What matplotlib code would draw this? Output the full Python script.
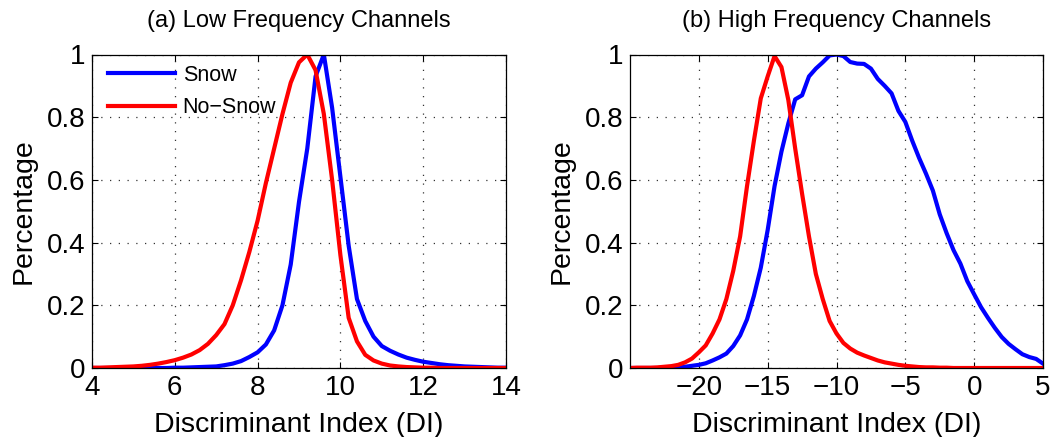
import numpy as np
import matplotlib
matplotlib.use("Agg")
import matplotlib.pyplot as plt

plt.rcParams['font.family'] = ['Liberation Sans', 'DejaVu Sans']

# ---------------- data ----------------
# Panel (a): Low Frequency Channels
di_low = [4.0, 4.2, 4.4, 4.6, 4.8, 5.0, 5.2, 5.4, 5.6, 5.8,
          6.0, 6.2, 6.4, 6.6, 6.8, 7.0, 7.2, 7.4, 7.6, 7.8,
          8.0, 8.2, 8.4, 8.6, 8.8, 9.0, 9.2, 9.4, 9.6, 9.8,
          10.0, 10.2, 10.4, 10.6, 10.8, 11.0, 11.2, 11.4, 11.6, 11.8,
          12.0, 12.2, 12.4, 12.6, 12.8, 13.0, 13.2, 13.4, 13.6, 13.8, 14.0]
snow_low = [0.0, 0.0, 0.0, 0.0, 0.0, 0.0, 0.0, 0.0, 0.0, 0.0,
            0.001, 0.001, 0.002, 0.003, 0.004, 0.005, 0.009, 0.014, 0.022, 0.035,
            0.05, 0.075, 0.12, 0.2, 0.33, 0.53, 0.7, 0.93, 1.0, 0.83,
            0.61, 0.39, 0.22, 0.15, 0.10, 0.07, 0.055, 0.043, 0.033, 0.026,
            0.02, 0.016, 0.012, 0.009, 0.007, 0.005, 0.004, 0.003, 0.002, 0.001, 0.001]
nosnow_low = [0.001, 0.001, 0.002, 0.003, 0.004, 0.005, 0.007, 0.01, 0.014, 0.019,
              0.025, 0.033, 0.043, 0.057, 0.077, 0.105, 0.14, 0.2, 0.28, 0.37,
              0.47, 0.59, 0.70, 0.81, 0.91, 0.975, 1.0, 0.95, 0.81, 0.6,
              0.36, 0.16, 0.085, 0.042, 0.024, 0.014, 0.008, 0.005, 0.003, 0.002,
              0.001, 0.001, 0.0, 0.0, 0.0, 0.0, 0.0, 0.0, 0.0, 0.0, 0.0]

# Panel (b): High Frequency Channels
di_high = [-25.0, -24.5, -24.0, -23.5, -23.0, -22.5, -22.0, -21.5, -21.0, -20.5,
           -20.0, -19.5, -19.0, -18.5, -18.0, -17.5, -17.0, -16.5, -16.0, -15.5,
           -15.0, -14.5, -14.0, -13.5, -13.0, -12.5, -12.0, -11.5, -11.0, -10.5,
           -10.0, -9.5, -9.0, -8.5, -8.0, -7.5, -7.0, -6.5, -6.0, -5.5,
           -5.0, -4.5, -4.0, -3.5, -3.0, -2.5, -2.0, -1.5, -1.0, -0.5,
           0.0, 0.5, 1.0, 1.5, 2.0, 2.5, 3.0, 3.5, 4.0, 4.5, 5.0]
snow_high = [0.0, 0.0, 0.0, 0.0, 0.0, 0.001, 0.001, 0.002, 0.004, 0.007,
             0.01, 0.015, 0.024, 0.034, 0.046, 0.07, 0.104, 0.155, 0.23, 0.32,
             0.44, 0.58, 0.69, 0.78, 0.857, 0.87, 0.93, 0.955, 0.975, 0.997,
             1.0, 0.995, 0.976, 0.971, 0.97, 0.955, 0.922, 0.9, 0.876, 0.82,
             0.785, 0.725, 0.67, 0.62, 0.566, 0.49, 0.43, 0.376, 0.333, 0.277,
             0.235, 0.194, 0.16, 0.128, 0.099, 0.077, 0.06, 0.044, 0.035, 0.029, 0.014]
nosnow_high = [0.0, 0.001, 0.001, 0.001, 0.002, 0.004, 0.006, 0.01, 0.018, 0.03,
               0.05, 0.072, 0.11, 0.155, 0.22, 0.31, 0.42, 0.58, 0.725, 0.86,
               0.93, 0.995, 0.96, 0.855, 0.70, 0.556, 0.42, 0.30, 0.22, 0.15,
               0.11, 0.08, 0.062, 0.049, 0.04, 0.032, 0.024, 0.018, 0.014, 0.01,
               0.007, 0.005, 0.003, 0.002, 0.002, 0.001, 0.001, 0.0, 0.0, 0.0,
               0.0, 0.0, 0.0, 0.0, 0.0, 0.0, 0.0, 0.0, 0.0, 0.0, 0.0]

titles = ["(a) Low Frequency Channels", "(b) High Frequency Channels"]
xlabel = "Discriminant Index (DI)"
ylabel = "Percentage"
series_names = ["Snow", "No\u2212Snow"]
yticks = [0, 0.2, 0.4, 0.6, 0.8, 1]
ytick_labels = ["0", "0.2", "0.4", "0.6", "0.8", "1"]
xticks_low = [4, 6, 8, 10, 12, 14]
xticks_high = [-20, -15, -10, -5, 0, 5]

# ---------------- figure ----------------
W, H = 1059, 437
fig = plt.figure(figsize=(W / 100, H / 100), dpi=100)

def px_axes(x0, y0, x1, y1):
    return fig.add_axes([x0 / W, 1 - y1 / H, (x1 - x0) / W, (y1 - y0) / H])

ax1 = px_axes(92, 54.5, 506, 368)
ax2 = px_axes(630, 54.5, 1043, 368)

blue = (0, 0, 1)
red = (1, 0, 0)

def style(ax, xlim, xticks, title):
    ax.set_xlim(*xlim)
    ax.set_ylim(0, 1)
    ax.set_xticks(xticks)
    ax.set_yticks(yticks)
    ax.set_yticklabels(ytick_labels)
    ax.tick_params(direction='in', top=True, right=True, length=4, width=0.8,
                   labelsize=20, pad=5)
    ax.grid(True, linestyle=(0, (1, 6)), color='0.2', linewidth=0.9)
    ax.set_axisbelow(True)
    for s in ax.spines.values():
        s.set_linewidth(0.9)
    ax.set_title(title, fontsize=17, pad=20)
    ax.set_xlabel(xlabel, fontsize=20.5, labelpad=8)
    ax.set_ylabel(ylabel, fontsize=20.5, labelpad=7)

ax1.plot(di_low, snow_low, color=blue, lw=3, label=series_names[0])
ax1.plot(di_low, nosnow_low, color=red, lw=3, label=series_names[1])
style(ax1, (4, 14), xticks_low, titles[0])
ax1.legend(loc='upper left', bbox_to_anchor=(0.039, 0.968), frameon=False,
           fontsize=15.5, handlelength=3.1, handletextpad=0.36,
           labelspacing=0.55, borderaxespad=0.0, borderpad=0.0)

ax2.plot(di_high, snow_high, color=blue, lw=3)
ax2.plot(di_high, nosnow_high, color=red, lw=3)
style(ax2, (-25, 5), xticks_high, titles[1])

fig.savefig("out.png", dpi=100)
